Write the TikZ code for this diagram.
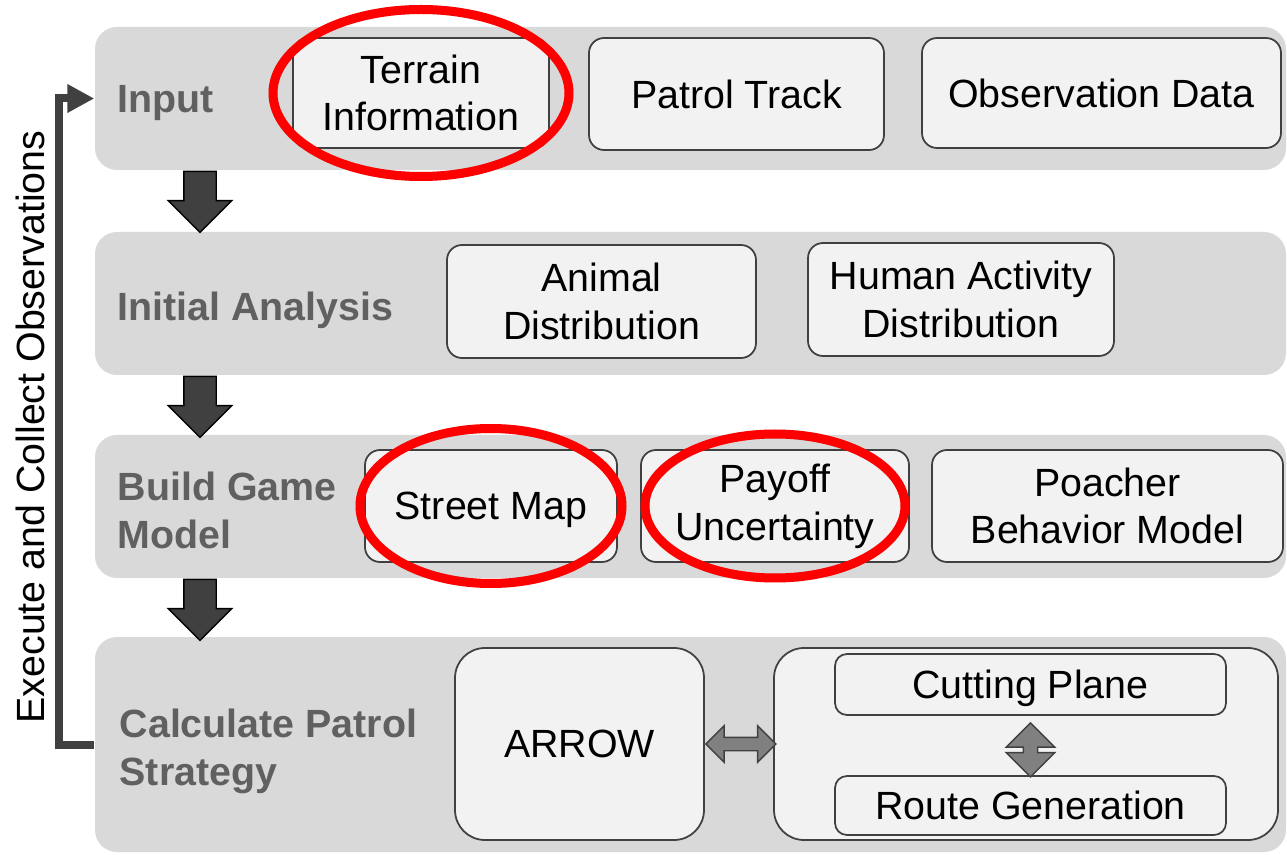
\documentclass[tikz,border=0pt]{standalone}
\usepackage{fontspec}
\setmainfont{Liberation Sans}
\usetikzlibrary{arrows.meta,shapes.arrows,positioning}
\definecolor{panelgray}{HTML}{D9D9D9}
\definecolor{boxgray}{HTML}{F2F2F2}
\definecolor{edgegray}{HTML}{404040}
\definecolor{taggray}{HTML}{606060}

\begin{document}
\begin{tikzpicture}[font=\fontsize{11.2}{13.6}\selectfont,
 panel/.style={fill=panelgray,rounded corners=0.22cm,minimum width=11.91cm,inner sep=0},
 tag/.style={anchor=north west,inner sep=0,font=\fontsize{11.2}{13.6}\selectfont\bfseries,text=taggray,align=left},
 item/.style={draw=edgegray,fill=boxgray,rounded corners=0.15cm,align=center,inner sep=0,line width=0.5pt},
 ring/.style={draw=red,line width=0.09cm},
 ringshade/.style={draw=black,opacity=0.12,line width=0.09cm,yshift=-0.03cm},
 flow/.style={single arrow,fill=edgegray,draw=black,line width=0.4pt,inner sep=0.155cm,minimum width=0.62cm,
   single arrow head extend=0.155cm,minimum height=0.61cm,shape border rotate=270,anchor=tail},
 swap/.style={double arrow,fill=gray,draw=edgegray,line width=0.4pt}]
\useasboundingbox (0,0) rectangle (12.87,8.54);

\node[panel,minimum height=1.43cm] (input) at (6.905,7.555) {};
\node[panel,minimum height=1.43cm] (analysis) at (6.905,5.505) {};
\node[panel,minimum height=1.43cm] (model) at (6.905,3.475) {};
\node[panel,minimum height=2.15cm] (strategy) at (6.905,1.095) {};

\node[tag] (inputtag) at (1.17,7.69) {Input};
\node[tag] (analysistag) at (1.17,5.63) {Initial Analysis};
\node[tag] (modeltag) at (1.17,3.83) {Build Game\\Model};
\node[tag] (strategytag) at (1.19,1.46) {Calculate Patrol\\Strategy};

\node[item,minimum width=2.56cm,minimum height=1.10cm] (terrain) at (4.21,7.61) {Terrain\\Information};
\node[item,minimum width=2.95cm,minimum height=1.12cm] (track) at (7.365,7.60) {Patrol Track};
\node[item,minimum width=3.59cm,minimum height=1.10cm] (observation) at (11.015,7.61) {Observation Data};
\node[item,minimum width=3.09cm,minimum height=1.13cm] (animal) at (6.015,5.525) {Animal\\Distribution};
\node[item,minimum width=3.06cm,minimum height=1.13cm] (human) at (9.61,5.545) {Human Activity\\Distribution};
\node[item,text depth=0pt,minimum width=2.52cm,minimum height=1.12cm] (street) at (4.91,3.48) {Street Map};
\node[item,minimum width=2.68cm,minimum height=1.12cm] (payoff) at (7.75,3.48) {Payoff\\Uncertainty};
\node[item,minimum width=3.51cm,minimum height=1.12cm] (poacher) at (11.075,3.48) {Poacher\\Behavior Model};
\node[item,rounded corners=0.3cm,minimum width=2.49cm,minimum height=1.92cm] (arrow) at (5.795,1.10) {ARROW};
\node[item,rounded corners=0.3cm,minimum width=5.04cm,minimum height=1.92cm] (solver) at (10.26,1.10) {};
\node[item,text depth=0pt,rounded corners=0.12cm,minimum width=3.91cm,minimum height=0.61cm] (cutting) at (10.305,1.695) {Cutting Plane};
\node[item,rounded corners=0.12cm,minimum width=3.91cm,minimum height=0.59cm] (route) at (10.305,0.485) {Route Generation};

\node[flow] (flow1) at (2.00,0 |- input.south) {};
\node[flow] (flow2) at (2.00,0 |- analysis.south) {};
\node[flow] (flow3) at (2.00,0 |- model.south) {};
\node[swap,inner xsep=0,inner ysep=0.06cm,minimum height=0.70cm,minimum width=0.35cm,double arrow head extend=0.115cm,anchor=west] (link) at (arrow.east) {};
\node[swap,shape border rotate=90,inner sep=0.065cm,minimum height=0.54cm,minimum width=0.47cm,double arrow head extend=0.17cm,below=0.06cm of cutting] (iterate) {};

\draw[ringshade] (terrain) ellipse [x radius=1.48,y radius=0.835];
\draw[ringshade] (street) ellipse [x radius=1.31,y radius=0.775];
\draw[ringshade] (payoff) ellipse [x radius=1.30,y radius=0.72];
\draw[ring] (terrain) ellipse [x radius=1.48,y radius=0.835];
\draw[ring] (street) ellipse [x radius=1.31,y radius=0.775];
\draw[ring] (payoff) ellipse [x radius=1.30,y radius=0.72];

\draw[line width=0.08cm,draw=edgegray,-{Triangle[length=0.27cm,width=0.27cm]}] (strategy.west) -- ++(-0.35,0) |- (input.west);
\node[rotate=90] (loopnote) at (0.30,4.27) {Execute and Collect Observations};
\end{tikzpicture}
\end{document}
